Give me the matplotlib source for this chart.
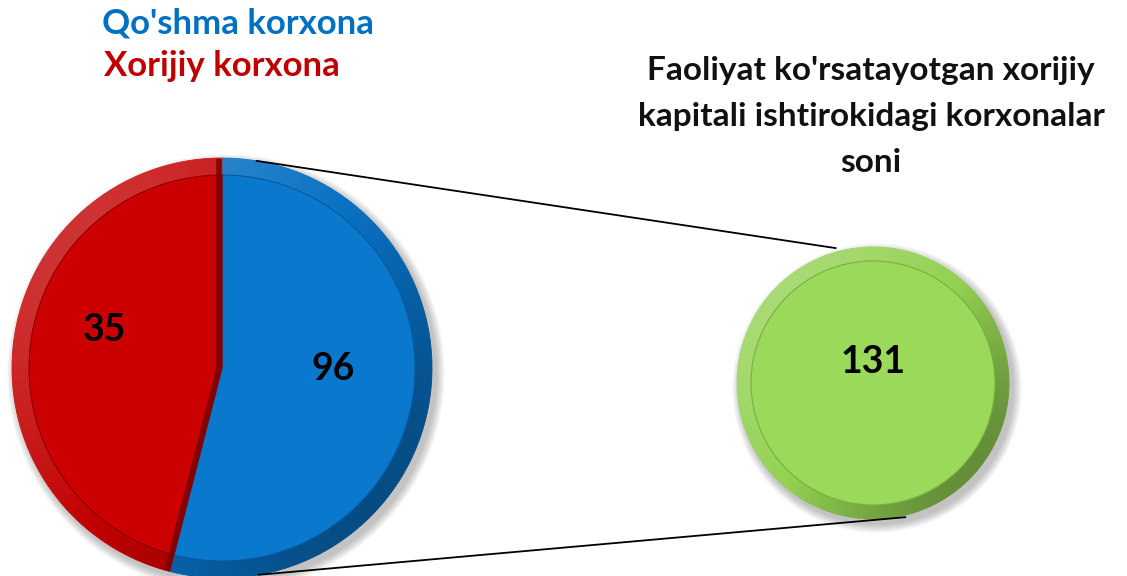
import numpy as np
import matplotlib.pyplot as plt
from matplotlib.patches import Circle, Wedge
from matplotlib.colors import to_rgb

# data
slice_labels = ["Qo'shma korxona", "Xorijiy korxona"]
slice_values = [96, 35]
slice_shares = [54, 46]          # angular share as drawn in the picture (%)
total_label = "131"
total_value = [131]
title_lines = ["Faoliyat ko'rsatayotgan xorijiy",
               "kapitali ishtirokidagi korxonalar",
               "soni"]

face_colors = ['#0A78CC', '#CC0000']
rim_colors = ['#0870C2', '#C20000']
line_colors = ['#045A9E', '#8E0000']
green_face = '#9BD95A'
green_rim = '#93D152'

plt.rcParams['font.family'] = ['Lato', 'DejaVu Sans']

fig = plt.figure(figsize=(11.27, 5.76), dpi=100)
ax = fig.add_axes([0, 0, 1, 1])

# geometry in pixel units (y up)
pie_c = (222, 208)
pie_r = 210
grn_c = (873, 193)
grn_r = 136


def shadow(c, r):
    for k in range(8):
        ax.add_patch(Circle((c[0] + 4, c[1] - 5), r + 1 + k * 1.1,
                            color='black', alpha=0.03, lw=0, zorder=1))


def shade(base, ang):
    b = np.array(to_rgb(base))
    dark = max(0.0, np.cos(np.radians(ang + 40)))
    light = max(0.0, np.cos(np.radians(ang - 140)))
    col = b * (1 - 0.32 * dark)
    col = col + (1 - col) * 0.2 * light
    return tuple(col)


def bevel(c, r, width, t1, t2, base):
    # opaque segments so the rim shading is smooth
    step = 2.0
    a = t1
    while a < t2:
        b = min(a + step, t2)
        col = shade(base, (a + b) / 2)
        ax.add_patch(Wedge(c, r, a, b, width=width, fc=col, ec=col, lw=0.6, zorder=3))
        a = b


# left pie
shadow(pie_c, pie_r)
ax.pie(slice_shares, center=pie_c, radius=pie_r, startangle=90, counterclock=False,
       colors=rim_colors, wedgeprops=dict(linewidth=0, zorder=2))
start = 90.0
for share, rc in zip(slice_shares, rim_colors):
    end = start - 360 * share / 100
    bevel(pie_c, pie_r, 17, end, start, rc)
    start = end
ax.pie(slice_shares, center=pie_c, radius=pie_r - 17, startangle=90, counterclock=False,
       colors=face_colors, wedgeprops=dict(linewidth=0.8, zorder=4))
for w, lc in zip(ax.patches[-2:], line_colors):
    w.set_edgecolor(lc)

# dark bevel on the red side of the split
split = np.radians(90 - 360 * slice_shares[0] / 100)
ax.plot([pie_c[0] - 3, pie_c[0] - 3], [pie_c[1], pie_c[1] + pie_r - 1],
        color='#7A0000', lw=4, alpha=0.85, zorder=5, solid_capstyle='butt')
ax.plot([pie_c[0] - 3, pie_c[0] - 3 + (pie_r - 1) * np.cos(split)],
        [pie_c[1], pie_c[1] + (pie_r - 1) * np.sin(split)],
        color='#7A0000', lw=4, alpha=0.85, zorder=5, solid_capstyle='butt')

# slice labels
ax.text(105, 246, str(slice_values[1]), fontsize=27, fontweight='bold',
        ha='center', va='center', color='black', zorder=6)
ax.text(333, 207, str(slice_values[0]), fontsize=27, fontweight='bold',
        ha='center', va='center', color='black', zorder=6)

# right circle (total)
shadow(grn_c, grn_r)
ax.pie(total_value, center=grn_c, radius=grn_r, colors=[green_rim],
       wedgeprops=dict(linewidth=0, zorder=2))
bevel(grn_c, grn_r, 14, 0, 360, green_rim)
ax.pie(total_value, center=grn_c, radius=grn_r - 14, colors=[green_face],
       wedgeprops=dict(linewidth=0.8, edgecolor='#78B040', zorder=4))
ax.text(grn_c[0], 214, total_label, fontsize=27, fontweight='bold',
        ha='center', va='center', color='black', zorder=6)

# connector lines
def on_circle(c, r, deg):
    a = np.radians(deg)
    return c[0] + r * np.cos(a), c[1] + r * np.sin(a)

p1 = on_circle(pie_c, pie_r, 80.5)
p2 = on_circle(grn_c, grn_r + 4, 105.5)
p3 = on_circle(pie_c, pie_r, -80)
p4 = on_circle(grn_c, grn_r + 2, -76.5)
ax.plot([p1[0], p2[0]], [p1[1], p2[1]], color='black', lw=1.3, zorder=5)
ax.plot([p3[0], p4[0]], [p3[1], p4[1]], color='black', lw=1.3, zorder=5)

# legend-like text
ax.text(238, 553, slice_labels[0], fontsize=25, fontweight='bold',
        color='#0070C0', ha='center', va='center')
ax.text(222, 510, slice_labels[1], fontsize=25, fontweight='bold',
        color='#C00000', ha='center', va='center')

# title, one line at a time
for i, line in enumerate(title_lines):
    ax.text(871, 496 - i * 46, line, fontsize=24, fontweight='bold', color='#111111',
            ha='center', va='baseline')

ax.set_xlim(0, 1127)
ax.set_ylim(0, 576)
ax.set_aspect('auto')
ax.axis('off')

fig.savefig('out.png', dpi=100, facecolor='white')
